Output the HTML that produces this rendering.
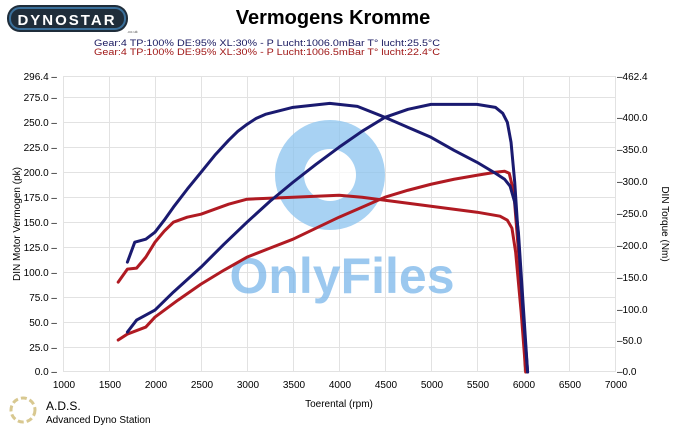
<!DOCTYPE html>
<html><head><meta charset="utf-8"><style>
body{margin:0;background:#fff;}
svg{display:block;font-family:"Liberation Sans",sans-serif;}
</style></head><body>
<svg width="685" height="428" viewBox="0 0 685 428" xmlns="http://www.w3.org/2000/svg">
<rect width="685" height="428" fill="#fff"/>
<rect x="7" y="5" width="121" height="27" rx="13" fill="#1f2d3a"/>
<rect x="10" y="8" width="115" height="21" rx="10" fill="none" stroke="#3a6f9a" stroke-width="2"/>
<text x="67" y="25" font-size="15" font-weight="bold" fill="#fff" text-anchor="middle" letter-spacing="2">DYNOSTAR</text>
<text x="127" y="33" font-size="4" fill="#555">.co.uk</text>
<text x="333" y="24" font-size="20" font-weight="bold" text-anchor="middle" fill="#000">Vermogens Kromme</text>
<text x="94" y="46" font-size="9" fill="#1a1a60" textLength="346" lengthAdjust="spacingAndGlyphs">Gear:4 TP:100% DE:95% XL:30%   - P Lucht:1006.0mBar T° lucht:25.5°C</text>
<text x="94" y="55" font-size="9" fill="#a01818" textLength="346" lengthAdjust="spacingAndGlyphs">Gear:4 TP:100% DE:95% XL:30%   - P Lucht:1006.5mBar T° lucht:22.4°C</text>
<g stroke="#e2e2e2" stroke-width="1">
<line x1="63" y1="76.5" x2="616" y2="76.5"/>
<line x1="63" y1="97.5" x2="616" y2="97.5"/><line x1="63" y1="122.5" x2="616" y2="122.5"/><line x1="63" y1="147.5" x2="616" y2="147.5"/><line x1="63" y1="172.5" x2="616" y2="172.5"/><line x1="63" y1="197.5" x2="616" y2="197.5"/><line x1="63" y1="222.5" x2="616" y2="222.5"/><line x1="63" y1="247.5" x2="616" y2="247.5"/><line x1="63" y1="272.5" x2="616" y2="272.5"/><line x1="63" y1="297.5" x2="616" y2="297.5"/><line x1="63" y1="322.5" x2="616" y2="322.5"/><line x1="63" y1="347.5" x2="616" y2="347.5"/><line x1="63" y1="371.5" x2="616" y2="371.5"/>
<line x1="109.5" y1="76" x2="109.5" y2="372"/><line x1="155.5" y1="76" x2="155.5" y2="372"/><line x1="201.5" y1="76" x2="201.5" y2="372"/><line x1="247.5" y1="76" x2="247.5" y2="372"/><line x1="293.5" y1="76" x2="293.5" y2="372"/><line x1="339.5" y1="76" x2="339.5" y2="372"/><line x1="385.5" y1="76" x2="385.5" y2="372"/><line x1="431.5" y1="76" x2="431.5" y2="372"/><line x1="477.5" y1="76" x2="477.5" y2="372"/><line x1="523.5" y1="76" x2="523.5" y2="372"/><line x1="569.5" y1="76" x2="569.5" y2="372"/><line x1="615.5" y1="76" x2="615.5" y2="372"/>
<line x1="63.5" y1="76" x2="63.5" y2="372"/>
</g>
<g font-size="10" fill="#000" text-anchor="end">
<text x="57" y="80">296.4 –</text><text x="57" y="101">275.0 –</text><text x="57" y="126">250.0 –</text><text x="57" y="151">225.0 –</text><text x="57" y="176">200.0 –</text><text x="57" y="201">175.0 –</text><text x="57" y="226">150.0 –</text><text x="57" y="251">125.0 –</text><text x="57" y="276">100.0 –</text><text x="57" y="301">75.0 –</text><text x="57" y="326">50.0 –</text><text x="57" y="351">25.0 –</text><text x="57" y="375">0.0 –</text>
</g>
<g font-size="10" fill="#000">
<text x="617" y="80">–462.4</text><text x="617" y="121">–400.0</text><text x="617" y="153">–350.0</text><text x="617" y="185">–300.0</text><text x="617" y="217">–250.0</text><text x="617" y="249">–200.0</text><text x="617" y="281">–150.0</text><text x="617" y="313">–100.0</text><text x="617" y="344">–50.0</text><text x="617" y="375">–0.0</text>
</g>
<g font-size="10" fill="#000" text-anchor="middle">
<text x="64" y="388">1000</text><text x="110" y="388">1500</text><text x="156" y="388">2000</text><text x="202" y="388">2500</text><text x="248" y="388">3000</text><text x="294" y="388">3500</text><text x="340" y="388">4000</text><text x="386" y="388">4500</text><text x="432" y="388">5000</text><text x="478" y="388">5500</text><text x="524" y="388">6000</text><text x="570" y="388">6500</text><text x="616" y="388">7000</text>
<text x="339" y="407" font-size="10">Toerental (rpm)</text>
</g>
<text transform="translate(20,224) rotate(-90)" font-size="10" text-anchor="middle">DIN Motor Vermogen (pk)</text>
<text transform="translate(662,224) rotate(90)" font-size="10" text-anchor="middle">DIN Torque (Nm)</text>
<g opacity="0.75">
<circle cx="330" cy="175" r="55" fill="#8cc4ef"/>
<circle cx="330" cy="175" r="26" fill="#fff"/>
<text x="342" y="293" font-size="50" font-weight="bold" fill="#7ab6ea" text-anchor="middle">OnlyFiles</text>
</g>
<g transform="translate(63,372) scale(0.092,-0.9987) translate(-1000,0)" fill="none" stroke-linejoin="round" stroke-linecap="round">
<polyline vector-effect="non-scaling-stroke" stroke="#b01a22" stroke-width="3" points="1600,90 1700,103 1800,104 1900,115 2000,130 2100,141 2200,150 2350,155 2500,158 2650,163 2800,168 3000,173 3500,175 4000,177 4250,175 4500,172 5000,166 5500,160 5750,156 5830,152 5880,144 5920,120 5980,60 6030,0"/>
<polyline vector-effect="non-scaling-stroke" stroke="#b01a22" stroke-width="3" points="1600,32 1700,38 1900,45 2000,55 2250,72 2500,88 2750,102 3000,115 3250,124 3500,133 3750,144 4000,155 4250,165 4500,175 4750,182 5000,188 5250,193 5500,197 5700,200 5800,201 5850,199 5900,180 5960,110 6000,50 6030,0"/>
<polyline vector-effect="non-scaling-stroke" stroke="#1a1a70" stroke-width="3" points="1700,110 1780,130 1900,133 2000,140 2100,152 2200,165 2350,183 2500,200 2650,217 2800,232 2900,241 3000,248 3100,254 3200,258 3500,265 3900,269 4200,266 4500,255 4750,245 5000,235 5250,222 5500,210 5700,199 5800,193 5860,186 5910,170 5950,140 6000,70 6050,0"/>
<polyline vector-effect="non-scaling-stroke" stroke="#1a1a70" stroke-width="3" points="1700,40 1800,52 2000,62 2200,80 2500,105 2750,128 3000,150 3250,171 3500,190 3750,208 4000,225 4250,241 4500,255 4750,263 5000,268 5500,268 5700,265 5780,259 5830,250 5870,230 5910,190 5960,120 6000,60 6050,0"/>
</g>
<circle cx="23" cy="410" r="12" fill="none" stroke="#d8c890" stroke-width="3" stroke-dasharray="6 3"/>
<text x="46" y="410" font-size="12" fill="#000">A.D.S.</text>
<text x="46" y="423" font-size="10" fill="#000">Advanced Dyno Station</text>
</svg>
</body></html>
